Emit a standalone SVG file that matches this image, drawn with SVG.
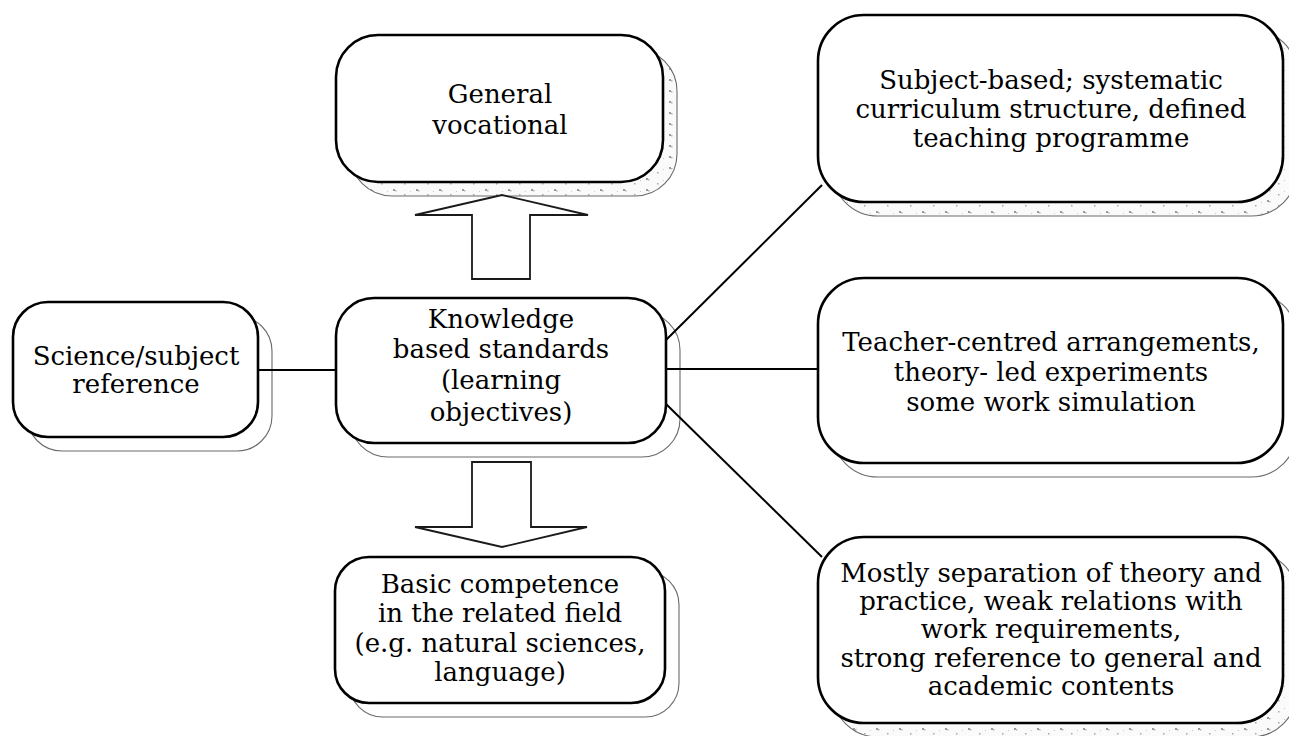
<svg xmlns="http://www.w3.org/2000/svg" width="1289" height="736" viewBox="0 0 1289 736">
  <defs>
    <!-- sparse speckled fill used in some of the drop shadows -->
    <pattern id="grain" width="23" height="11" patternUnits="userSpaceOnUse">
      <rect width="23" height="11" fill="#fafafa"/>
      <rect x="2" y="2" width="2" height="2" fill="#9a9a9a"/>
      <rect x="4" y="3" width="1.5" height="1.5" fill="#b5b5b5"/>
      <rect x="13" y="7" width="1.5" height="1.5" fill="#a8a8a8"/>
      <rect x="19" y="4" width="1" height="1" fill="#c8c8c8"/>
    </pattern>
  </defs>
  <style>
    .box { fill: #ffffff; stroke: #000000; stroke-width: 2.6; }
    .shadow { fill: #ffffff; stroke: #6a6a6a; stroke-width: 1.1; }
    .shadow.grainy { fill: url(#grain); }
    .label { font-family: "DejaVu Serif", "Liberation Serif", serif; font-size: 26px; fill: #000000; text-anchor: middle; }
    .link { stroke: #000000; stroke-width: 2; fill: none; }
    .block { fill: #ffffff; stroke: #1a1a1a; stroke-width: 1.8; stroke-linejoin: miter; }
  </style>

  <rect width="1289" height="736" fill="#ffffff"/>

  <g id="node-science">
    <rect class="shadow" x="27" y="316" width="245" height="135" rx="35"/>
    <rect class="box" x="13" y="302" width="245" height="135" rx="35"/>
    <text class="label" x="136" y="365">Science/subject</text>
    <text class="label" x="136" y="393">reference</text>
  </g>

  <g id="node-general">
    <rect class="shadow grainy" x="350" y="49" width="327" height="147" rx="42"/>
    <rect class="box" x="336" y="35" width="327" height="147" rx="42"/>
    <text class="label" x="500" y="103">General</text>
    <text class="label" x="500" y="134">vocational</text>
  </g>

  <g id="node-knowledge">
    <rect class="shadow" x="350" y="312" width="330" height="145" rx="38"/>
    <rect class="box" x="336" y="298" width="330" height="145" rx="38"/>
    <text class="label" x="501" y="328">Knowledge</text>
    <text class="label" x="501" y="358">based standards</text>
    <text class="label" x="501" y="389">(learning</text>
    <text class="label" x="501" y="421">objectives)</text>
  </g>

  <g id="node-basic">
    <rect class="shadow" x="349" y="571" width="330" height="146" rx="34"/>
    <rect class="box" x="335" y="557" width="330" height="146" rx="34"/>
    <text class="label" x="500" y="593">Basic competence</text>
    <text class="label" x="500" y="622">in the related field</text>
    <text class="label" x="500" y="652">(e.g. natural sciences,</text>
    <text class="label" x="500" y="681">language)</text>
  </g>

  <g id="node-subject">
    <rect class="shadow grainy" x="832" y="29" width="465" height="187" rx="46"/>
    <rect class="box" x="818" y="15" width="465" height="187" rx="46"/>
    <text class="label" x="1051" y="89">Subject-based; systematic</text>
    <text class="label" x="1051" y="118">curriculum structure, defined</text>
    <text class="label" x="1051" y="147">teaching programme</text>
  </g>

  <g id="node-teacher">
    <rect class="shadow" x="832" y="292" width="465" height="185" rx="46"/>
    <rect class="box" x="818" y="278" width="465" height="185" rx="46"/>
    <text class="label" x="1051" y="351">Teacher-centred arrangements,</text>
    <text class="label" x="1051" y="381">theory- led experiments</text>
    <text class="label" x="1051" y="411">some work simulation</text>
  </g>

  <g id="node-separation">
    <rect class="shadow grainy" x="832" y="551" width="465" height="186" rx="46"/>
    <rect class="box" x="818" y="537" width="465" height="186" rx="46"/>
    <text class="label" x="1051" y="582">Mostly separation of theory and</text>
    <text class="label" x="1051" y="610">practice, weak relations with</text>
    <text class="label" x="1051" y="638">work requirements,</text>
    <text class="label" x="1051" y="667">strong reference to general and</text>
    <text class="label" x="1051" y="695">academic contents</text>
  </g>

  <!-- connectors, drawn over the shadows -->
  <g id="connectors">
    <line class="link" x1="258" y1="370" x2="336" y2="370"/>
    <line class="link" x1="666" y1="340" x2="822" y2="185"/>
    <line class="link" x1="666" y1="369" x2="818" y2="369"/>
    <line class="link" x1="666" y1="404" x2="822" y2="557"/>
    <!-- block arrow up to "General vocational" -->
    <path class="block" d="M472,279 L472,215 L415,215 L502,195 L588,215 L530,215 L530,279 Z"/>
    <!-- block arrow down to "Basic competence" -->
    <path class="block" d="M472,462 L531,462 L531,527 L587,527 L502,547 L415,527 L472,527 Z"/>
  </g>
</svg>
